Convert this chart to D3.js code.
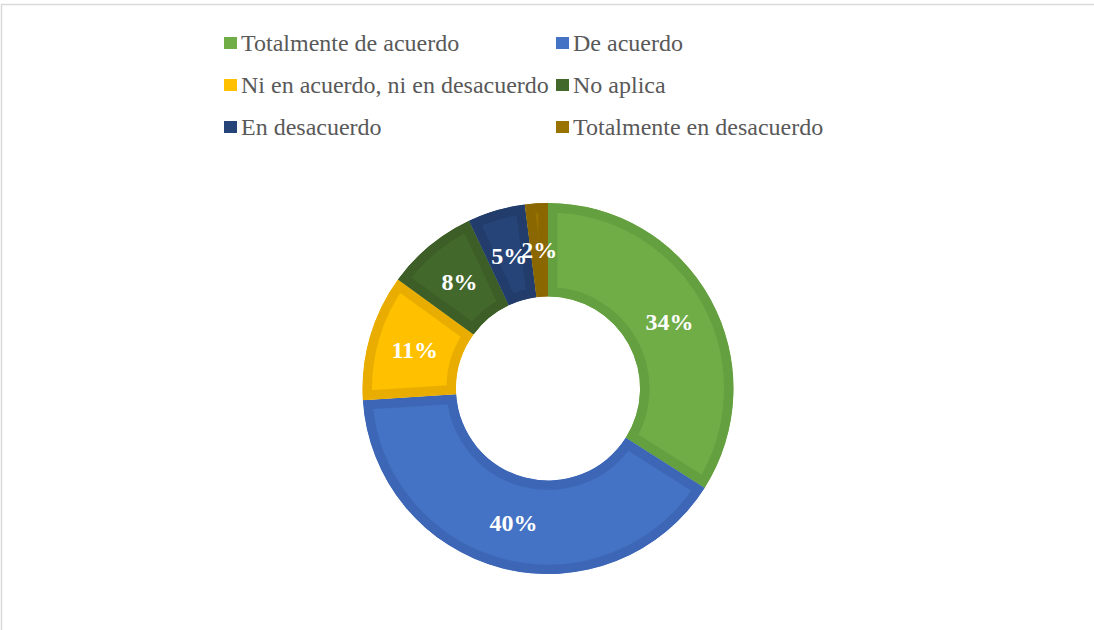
<!DOCTYPE html>
<html lang="es">
<head>
<meta charset="UTF-8">
<title>Donut</title>
<script src="https://d3js.org/d3.v7.min.js"></script>
<style>
    body { margin: 0; background: #fff; }
    svg { display: block; }
    text { font-family: "Liberation Serif", "Times New Roman", Times, serif; }
</style>
</head>
<body>
<div id="chart"></div>
<script>
// datos
var categorias = ["Totalmente de acuerdo", "De acuerdo", "Ni en acuerdo, ni en desacuerdo",
                  "No aplica", "En desacuerdo", "Totalmente en desacuerdo"];
var valores = [34, 40, 11, 8, 5, 2];
var colores = ["#70ad47", "#4472c4", "#ffc000", "#43682b", "#264478", "#997300"];
var bordes  = ["#64a03f", "#3d67b6", "#e8ad00", "#3d5f27", "#223d6c", "#8a6700"];

var width = 1094, height = 630;
var cx = 548, cy = 388.5;
var rOut = 185.5, rIn = 92;

var svg = d3.select("#chart").append("svg")
    .attr("width", width)
    .attr("height", height);

// marco
svg.append("rect")
    .attr("x", 1.5).attr("y", 4.5)
    .attr("width", width + 10).attr("height", height)
    .attr("fill", "none")
    .attr("stroke", "#d9d9d9")
    .attr("stroke-width", 1.5);

var pie = d3.pie().sort(null).value(function(d) { return d; });
var arc = d3.arc().innerRadius(rIn).outerRadius(rOut);
var arcs = pie(valores);

var g = svg.append("g").attr("transform", "translate(" + cx + "," + cy + ")");
var defs = svg.append("defs");

// cada sector recorta su propio borde para que quede por dentro
arcs.forEach(function(d, i) {
    defs.append("clipPath").attr("id", "clip" + i)
        .append("path").attr("d", arc(d));
});

g.selectAll("path.slice")
    .data(arcs)
    .enter().append("path")
    .attr("class", "slice")
    .attr("d", arc)
    .attr("fill", function(d, i) { return colores[i]; })
    .attr("stroke", function(d, i) { return bordes[i]; })
    .attr("stroke-width", 19)
    .attr("stroke-linejoin", "miter")
    .attr("clip-path", function(d, i) { return "url(#clip" + i + ")"; });

// etiquetas (5% y 2% se solapan igual que en el original)
g.selectAll("text.lbl")
    .data(arcs)
    .enter().append("text")
    .attr("class", "lbl")
    .attr("x", function(d) { return arc.centroid(d)[0]; })
    .attr("y", function(d) { return arc.centroid(d)[1]; })
    .attr("dy", "0.35em")
    .attr("text-anchor", "middle")
    .attr("font-weight", "bold")
    .attr("font-size", 24)
    .attr("fill", "#fff")
    .text(function(d) { return d.data + "%"; });

// leyenda
var colX = [224, 556], rowY = [43, 85, 127];
var leg = svg.selectAll("g.leg")
    .data(categorias)
    .enter().append("g")
    .attr("class", "leg")
    .attr("transform", function(d, i) {
        return "translate(" + colX[i % 2] + "," + rowY[Math.floor(i / 2)] + ")";
    });

leg.append("rect")
    .attr("x", 0).attr("y", -6)
    .attr("width", 13).attr("height", 12)
    .attr("fill", function(d, i) { return colores[i]; });

leg.append("text")
    .attr("x", 17)
    .attr("y", 0)
    .attr("dy", "0.33em")
    .attr("font-size", 24)
    .attr("fill", "#595959")
    .text(function(d) { return d; });
</script>
</body>
</html>
